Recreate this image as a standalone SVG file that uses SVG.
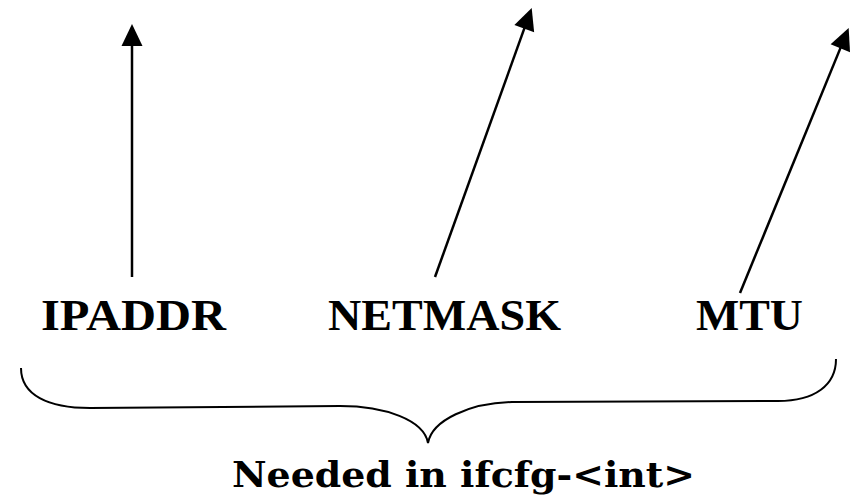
<svg xmlns="http://www.w3.org/2000/svg" width="854" height="497" viewBox="0 0 854 497">
  <style>
    .label { font-family: "Liberation Serif", "Times New Roman", serif; font-weight: bold; font-size: 45px; fill: #000; }
    .caption { font-family: "DejaVu Serif", "Liberation Serif", serif; font-weight: bold; font-size: 36px; fill: #000; }
    .arrow { stroke: #000; stroke-width: 2.5; fill: none; marker-end: url(#head); }
    .brace { stroke: #000; stroke-width: 2; fill: none; }
  </style>
  <defs>
    <marker id="head" markerUnits="userSpaceOnUse" markerWidth="22" markerHeight="21" refX="1" refY="10.5" orient="auto" overflow="visible">
      <path d="M0,0 L22,10.5 L0,21 Z" fill="#000"/>
    </marker>
  </defs>

  <rect width="854" height="497" fill="#fff"/>

  <g id="connectors">
    <line class="arrow" x1="132" y1="277" x2="132" y2="45"/>
    <line class="arrow" x1="435" y1="277" x2="524.6" y2="27.7"/>
    <line class="arrow" x1="740" y1="293" x2="840.7" y2="47.4"/>
  </g>

  <g id="ipaddr">
    <text class="label" x="41" y="330" textLength="185" lengthAdjust="spacingAndGlyphs">IPADDR</text>
  </g>
  <g id="netmask">
    <text class="label" x="328" y="330" textLength="233" lengthAdjust="spacingAndGlyphs">NETMASK</text>
  </g>
  <g id="mtu">
    <text class="label" x="696" y="330" textLength="107" lengthAdjust="spacingAndGlyphs">MTU</text>
  </g>

  <g id="brace">
    <path class="brace" d="M21 368 C21 395 48 408 90 408 L340 406 C385 406 424 420 428 443 C432 420 470 403 512 402 L778 401 C815 401 836 385 836 359"/>
  </g>

  <g id="caption">
    <text class="caption" x="232" y="487" textLength="463" lengthAdjust="spacingAndGlyphs">Needed in ifcfg-&lt;int&gt;</text>
  </g>
</svg>
